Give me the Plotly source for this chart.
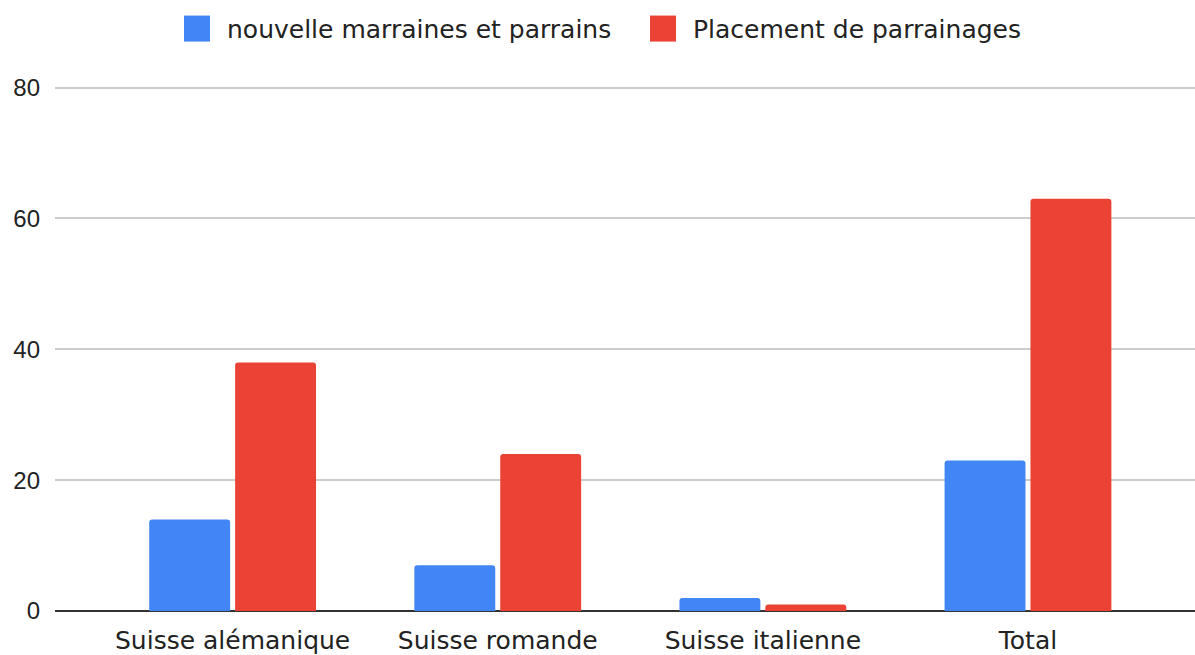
import plotly.graph_objects as go

categories = ["Suisse alémanique", "Suisse romande", "Suisse italienne", "Total"]
series_names = ["nouvelle marraines et parrains", "Placement de parrainages"]
nouvelles = [14, 7, 2, 23]
placements = [38, 24, 1, 63]
y_ticks = [0, 20, 40, 60, 80]

colors = ["#4285F4", "#EA4335"]
font_main = "DejaVu Sans"
font_ticks = "Liberation Sans"

fig = go.Figure()
for name, vals, col in zip(series_names, [nouvelles, placements], colors):
    fig.add_trace(go.Bar(x=categories, y=vals, name=name, marker_color=col,
                         marker_line_width=0, showlegend=False))

W, H = 1195, 655
ymax = 80.4
px_per_unit = 523 / 80
ml, mr, mb = 55, 0, 44
mt = 88 - (ymax - 80) * px_per_unit
PW, PH = W - ml - mr, H - mt - mb


def px(xw):  # window x -> paper x
    return (xw - ml) / PW


def py(yw):  # window y -> paper y
    return (H - mb - yw) / PH


legend_items = [(184, series_names[0], colors[0]), (650, series_names[1], colors[1])]
for x0, name, col in legend_items:
    fig.add_shape(type="rect", xref="paper", yref="paper",
                  x0=px(x0), x1=px(x0 + 26), y0=py(42), y1=py(16),
                  fillcolor=col, line_width=0, layer="above")
    fig.add_annotation(text=name, xref="paper", yref="paper",
                       x=px(x0 + 41), y=py(30),
                       xanchor="left", yanchor="middle", showarrow=False,
                       font=dict(family=font_main, size=25, color="#222"))

fig.update_layout(
    width=W, height=H,
    margin=dict(l=ml, r=mr, t=mt, b=mb, pad=0),
    paper_bgcolor="white", plot_bgcolor="white",
    barmode="group", bargap=0.352, bargroupgap=0.058,
    barcornerradius=3,
    hovermode=False,
    xaxis=dict(range=[-0.67, 3.63], showgrid=False, showline=False, ticks="",
               ticklabelstandoff=12,
               tickfont=dict(family=font_main, size=25, color="#222"),
               fixedrange=True),
    yaxis=dict(range=[0, ymax], tickvals=y_ticks, showgrid=True, gridcolor="#cccccc",
               gridwidth=1.5, zeroline=True, zerolinecolor="#333333", zerolinewidth=2,
               showline=False, ticks="", ticklabelstandoff=14,
               tickfont=dict(family=font_ticks, size=24, color="#222"),
               fixedrange=True),
)

fig.write_html("out.html",
               config={"displayModeBar": False},
               post_script="document.body.style.margin='0';document.body.style.overflow='hidden';")
